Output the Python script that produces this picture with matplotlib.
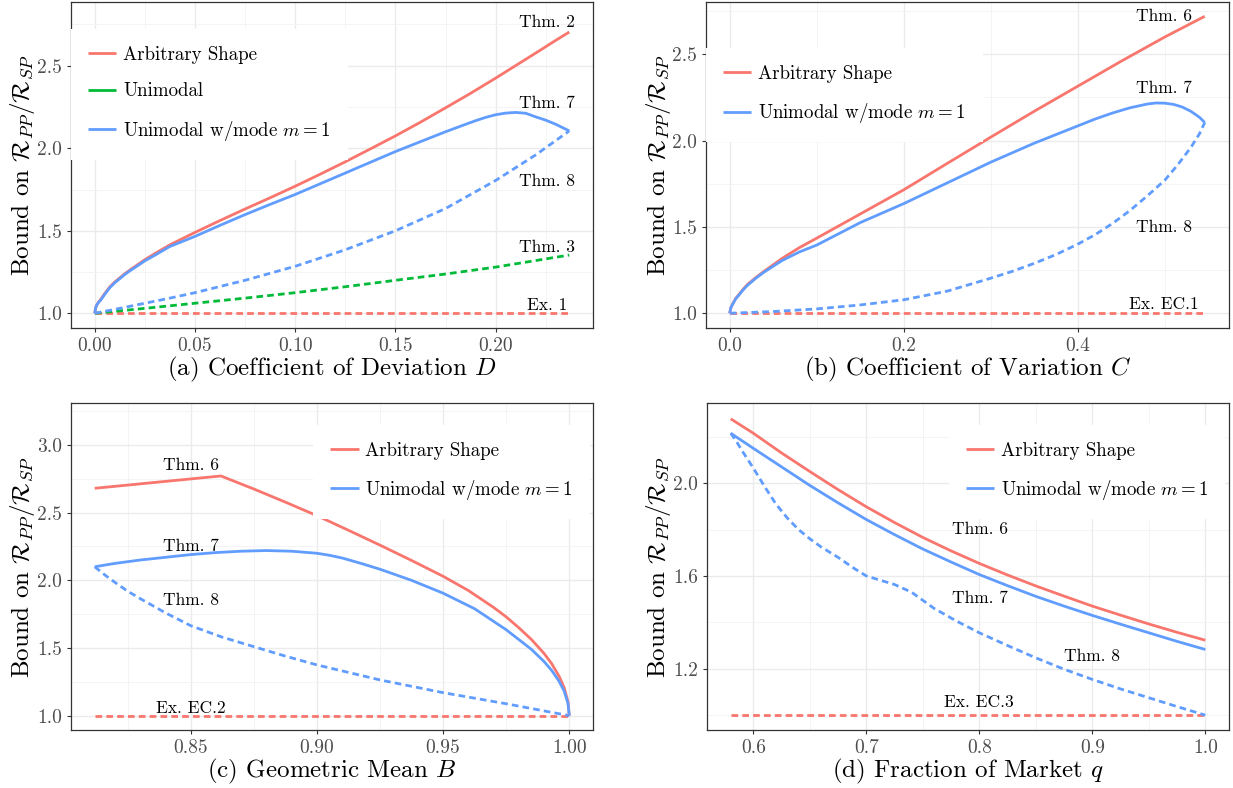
import matplotlib
matplotlib.use("Agg")
import matplotlib.pyplot as plt
from matplotlib.lines import Line2D

plt.rcParams["font.family"] = "cmr10"
plt.rcParams["mathtext.fontset"] = "cm"
plt.rcParams["axes.unicode_minus"] = False
plt.rcParams["axes.formatter.use_mathtext"] = True

RED = "#F8766D"
GREEN = "#00BA38"
BLUE = "#619CFF"

# ---- (a) coefficient of deviation D
a_x_thm2 = [0, 0.0005, 0.001, 0.002, 0.003, 0.005, 0.0075, 0.01, 0.0125, 0.015,
            0.0175, 0.02, 0.025, 0.03, 0.0375, 0.05, 0.0625, 0.075, 0.0875, 0.10,
            0.1125, 0.125, 0.1375, 0.15, 0.1625, 0.175, 0.1875, 0.20, 0.21, 0.22,
            0.23, 0.2367]
a_y_thm2 = [1.0, 1.035, 1.05, 1.07, 1.085, 1.12, 1.16, 1.19, 1.215, 1.24,
            1.262, 1.283, 1.325, 1.362, 1.415, 1.49, 1.562, 1.632, 1.70, 1.77,
            1.843, 1.918, 1.996, 2.075, 2.158, 2.245, 2.333, 2.425, 2.501, 2.577,
            2.654, 2.704]
a_x_thm7 = [0, 0.0005, 0.001, 0.002, 0.003, 0.005, 0.0075, 0.01, 0.0125, 0.015,
            0.0175, 0.02, 0.025, 0.03, 0.0375, 0.05, 0.0625, 0.075, 0.0875, 0.10,
            0.1125, 0.125, 0.1375, 0.15, 0.1625, 0.175, 0.185, 0.19, 0.195, 0.20,
            0.205, 0.21, 0.215, 0.22, 0.225, 0.23, 0.2367]
a_y_thm7 = [1.0, 1.035, 1.05, 1.068, 1.08, 1.115, 1.155, 1.185, 1.21, 1.235,
            1.257, 1.277, 1.318, 1.352, 1.405, 1.466, 1.533, 1.598, 1.66, 1.72,
            1.785, 1.85, 1.915, 1.98, 2.04, 2.10, 2.145, 2.167, 2.187, 2.203,
            2.213, 2.217, 2.212, 2.19, 2.17, 2.145, 2.105]
a_x_thm8 = [0, 0.0125, 0.025, 0.0375, 0.05, 0.075, 0.10, 0.125, 0.15, 0.175,
            0.20, 0.22, 0.2367]
a_y_thm8 = [1.0, 1.03, 1.061, 1.092, 1.125, 1.20, 1.285, 1.385, 1.50, 1.635,
            1.805, 1.96, 2.105]
a_x_thm3 = [0, 0.025, 0.05, 0.075, 0.10, 0.125, 0.15, 0.175, 0.20, 0.2367]
a_y_thm3 = [1.0, 1.03, 1.061, 1.092, 1.125, 1.161, 1.20, 1.238, 1.28, 1.353]
a_x_ex = [0, 0.2367]
a_y_ex = [1.0, 1.0]

# ---- (b) coefficient of variation C
b_x_thm6 = [0, 0.001, 0.002, 0.004, 0.007, 0.01, 0.015, 0.02, 0.03, 0.04, 0.06,
            0.08, 0.1, 0.15, 0.2, 0.25, 0.3, 0.35, 0.4, 0.45, 0.5, 0.546]
b_y_thm6 = [1.0, 1.028, 1.04, 1.06, 1.087, 1.105, 1.137, 1.165, 1.207, 1.245, 1.317,
            1.38, 1.435, 1.575, 1.715, 1.868, 2.02, 2.17, 2.315, 2.46, 2.60, 2.72]
b_x_thm7 = [0, 0.001, 0.002, 0.004, 0.007, 0.01, 0.015, 0.02, 0.03, 0.04, 0.06,
            0.08, 0.1, 0.15, 0.2, 0.25, 0.3, 0.35, 0.4, 0.42, 0.44, 0.46, 0.48,
            0.49, 0.50, 0.51, 0.52, 0.53, 0.54, 0.546]
b_y_thm7 = [1.0, 1.028, 1.04, 1.058, 1.085, 1.102, 1.133, 1.16, 1.203, 1.24, 1.305,
            1.355, 1.395, 1.525, 1.635, 1.755, 1.875, 1.985, 2.085, 2.125, 2.16, 2.19,
            2.212, 2.218, 2.217, 2.21, 2.195, 2.17, 2.135, 2.105]
b_x_thm8 = [0, 0.05, 0.1, 0.15, 0.2, 0.25, 0.30, 0.325, 0.35, 0.375, 0.40, 0.42,
            0.44, 0.46, 0.48, 0.50, 0.515, 0.53, 0.54, 0.546]
b_y_thm8 = [1.0, 1.01, 1.025, 1.048, 1.078, 1.128, 1.203, 1.243, 1.289, 1.34, 1.40,
            1.455, 1.52, 1.595, 1.68, 1.77, 1.86, 1.96, 2.04, 2.105]
b_x_ex = [0, 0.546]
b_y_ex = [1.0, 1.0]

# ---- (c) geometric mean B
c_x_thm6 = [0.812, 0.862, 0.875, 0.8875, 0.90, 0.9125, 0.925, 0.9375, 0.95, 0.96,
            0.97, 0.975, 0.98, 0.985, 0.99, 0.993, 0.996, 0.998, 0.9995, 1.0]
c_y_thm6 = [2.68, 2.771, 2.675, 2.578, 2.478, 2.37, 2.26, 2.147, 2.03, 1.925,
            1.80, 1.73, 1.65, 1.563, 1.46, 1.385, 1.29, 1.206, 1.10, 1.0]
c_x_thm7 = [0.812, 0.82, 0.83, 0.84, 0.85, 0.86, 0.87, 0.88, 0.89, 0.90, 0.905,
            0.91, 0.9175, 0.925, 0.9375, 0.95, 0.9625, 0.975, 0.985, 0.99, 0.993,
            0.996, 0.998, 0.9995, 1.0]
c_y_thm7 = [2.10, 2.125, 2.15, 2.17, 2.19, 2.205, 2.215, 2.22, 2.215, 2.20, 2.185,
            2.165, 2.125, 2.082, 2.0, 1.905, 1.79, 1.635, 1.49, 1.40, 1.335,
            1.253, 1.18, 1.09, 1.0]
c_x_thm8 = [0.812, 0.816, 0.82, 0.825, 0.83, 0.84, 0.85, 0.8625, 0.875, 0.8875,
            0.90, 0.925, 0.95, 0.975, 1.0]
c_y_thm8 = [2.10, 2.04, 1.985, 1.92, 1.865, 1.76, 1.665, 1.58, 1.51, 1.44,
            1.375, 1.264, 1.17, 1.088, 1.0]
c_x_ex = [0.812, 1.0]
c_y_ex = [1.0, 1.0]

# ---- (d) fraction of market q
d_x_thm6 = [0.58, 0.6, 0.625, 0.65, 0.675, 0.7, 0.725, 0.75, 0.775, 0.8, 0.825,
            0.85, 0.875, 0.9, 0.925, 0.95, 0.975, 1.0]
d_y_thm6 = [2.277, 2.215, 2.13, 2.05, 1.972, 1.898, 1.83, 1.766, 1.708, 1.654, 1.604,
            1.557, 1.513, 1.47, 1.431, 1.393, 1.357, 1.323]
d_x_thm7 = [0.58, 0.6, 0.625, 0.65, 0.675, 0.7, 0.725, 0.75, 0.775, 0.8, 0.825,
            0.85, 0.875, 0.9, 0.925, 0.95, 0.975, 1.0]
d_y_thm7 = [2.215, 2.15, 2.07, 1.99, 1.915, 1.843, 1.778, 1.716, 1.66, 1.606, 1.558,
            1.512, 1.47, 1.43, 1.392, 1.355, 1.318, 1.283]
d_x_thm8 = [0.58, 0.585, 0.59, 0.6, 0.61, 0.62, 0.63, 0.64, 0.65, 0.66, 0.675,
            0.69, 0.70, 0.71, 0.725, 0.74, 0.76, 0.78, 0.80, 0.825, 0.85, 0.875,
            0.90, 0.925, 0.95, 0.975, 1.0]
d_y_thm8 = [2.215, 2.18, 2.14, 2.065, 1.985, 1.91, 1.85, 1.80, 1.76, 1.725, 1.68,
            1.63, 1.60, 1.585, 1.563, 1.53, 1.46, 1.405, 1.355, 1.30, 1.247, 1.198,
            1.154, 1.113, 1.075, 1.037, 1.0]
d_x_ex = [0.58, 1.0]
d_y_ex = [1.0, 1.0]

W, H = 1233, 788
fig = plt.figure(figsize=(W / 100, H / 100), dpi=100)


def make_axes(left, right, top, bottom):
    return fig.add_axes([left / W, 1 - bottom / H, (right - left) / W, (bottom - top) / H])


def style(ax, xlim, ylim, xmaj, xlab, xmin, ymaj, ylab, ymin):
    ax.set_xlim(*xlim)
    ax.set_ylim(*ylim)
    ax.set_xticks(xmaj, xlab)
    ax.set_xticks(xmin, minor=True)
    ax.set_yticks(ymaj, ylab)
    ax.set_yticks(ymin, minor=True)
    ax.grid(which="major", color="#EBEBEB", lw=1.0, zorder=0)
    ax.grid(which="minor", color="#F2F2F2", lw=0.6, zorder=0)
    ax.set_axisbelow(True)
    for s in ax.spines.values():
        s.set_color("#333333")
        s.set_linewidth(0.9)
    ax.tick_params(which="major", length=3.0, width=0.8, color="#333333",
                   labelsize=14, labelcolor="#4D4D4D", pad=3.5)
    ax.tick_params(which="minor", length=0)


solid = dict(lw=2.0, solid_capstyle="butt")
dash = dict(lw=2.0, ls=(0, (2.4, 1.5)))
ylabel = r"Bound on $\mathcal{R}_{PP}/\mathcal{R}_{SP}$"
ann = dict(ha="center", va="center", fontsize=12.5)


def legend(ax, handles, labels, x, y):
    lg = ax.legend(handles, labels, loc="upper left", bbox_to_anchor=(x, y),
                   borderaxespad=0, fontsize=13.6, frameon=True, fancybox=False,
                   facecolor="white", edgecolor="none", framealpha=1.0,
                   handlelength=1.5, handletextpad=0.35, labelspacing=0.98,
                   borderpad=0.9)
    lg.get_frame().set_linewidth(0)


def labels(ax, xl, ylx):
    ax.set_xlabel(xl, fontsize=18, va="baseline")
    ax.xaxis.set_label_coords(0.5, -47 / 326)
    ax.set_ylabel(ylabel, fontsize=18, va="baseline")
    ax.yaxis.set_label_coords(ylx, 0.5)


# (a)
ax = make_axes(71, 593, 2, 328)
ax.plot(a_x_ex, a_y_ex, color=RED, **dash)
ax.plot(a_x_thm3, a_y_thm3, color=GREEN, **dash)
ax.plot(a_x_thm8, a_y_thm8, color=BLUE, **dash)
ax.plot(a_x_thm2, a_y_thm2, color=RED, **solid)
ax.plot(a_x_thm7, a_y_thm7, color=BLUE, **solid)
style(ax, (-0.01184, 0.24854), (0.911, 2.886),
      [0, 0.05, 0.10, 0.15, 0.20], ["0.00", "0.05", "0.10", "0.15", "0.20"],
      [0.025, 0.075, 0.125, 0.175, 0.225],
      [1.0, 1.5, 2.0, 2.5], ["1.0", "1.5", "2.0", "2.5"],
      [1.25, 1.75, 2.25, 2.75])
ax.text(0.2256, 2.765, "Thm. 2", **ann)
ax.text(0.2256, 2.273, "Thm. 7", **ann)
ax.text(0.2256, 1.798, "Thm. 8", **ann)
ax.text(0.2256, 1.40, "Thm. 3", **ann)
ax.text(0.2256, 1.05, "Ex. 1", **ann)
legend(ax, [Line2D([], [], color=c, **solid) for c in (RED, GREEN, BLUE)],
       ["Arbitrary Shape", "Unimodal", r"Unimodal w/mode $m=1$"], 0.0, 0.918)
labels(ax, r"(a) Coefficient of Deviation $D$", -42 / 522)

# (b)
ax = make_axes(706, 1229, 2, 328)
ax.plot(b_x_ex, b_y_ex, color=RED, **dash)
ax.plot(b_x_thm8, b_y_thm8, color=BLUE, **dash)
ax.plot(b_x_thm6, b_y_thm6, color=RED, **solid)
ax.plot(b_x_thm7, b_y_thm7, color=BLUE, **solid)
style(ax, (-0.0273, 0.5739), (0.9145, 2.803),
      [0, 0.2, 0.4], ["0.0", "0.2", "0.4"], [0.1, 0.3, 0.5],
      [1.0, 1.5, 2.0, 2.5], ["1.0", "1.5", "2.0", "2.5"],
      [1.25, 1.75, 2.25, 2.75])
ax.text(0.499, 2.72, "Thm. 6", **ann)
ax.text(0.499, 2.303, "Thm. 7", **ann)
ax.text(0.499, 1.496, "Thm. 8", **ann)
ax.text(0.499, 1.054, "Ex. EC.1", **ann)
legend(ax, [Line2D([], [], color=c, **solid) for c in (RED, BLUE)],
       ["Arbitrary Shape", r"Unimodal w/mode $m=1$"], 0.0, 0.859)
labels(ax, r"(b) Coefficient of Variation $C$", -41 / 523)

# (c)
ax = make_axes(71, 593, 403.3, 730)
ax.plot(c_x_ex, c_y_ex, color=RED, **dash)
ax.plot(c_x_thm8, c_y_thm8, color=BLUE, **dash)
ax.plot(c_x_thm6, c_y_thm6, color=RED, **solid)
ax.plot(c_x_thm7, c_y_thm7, color=BLUE, **solid)
style(ax, (0.8026, 1.0094), (0.894, 3.308),
      [0.85, 0.90, 0.95, 1.00], ["0.85", "0.90", "0.95", "1.00"],
      [0.825, 0.875, 0.925, 0.975],
      [1.0, 1.5, 2.0, 2.5, 3.0], ["1.0", "1.5", "2.0", "2.5", "3.0"],
      [1.25, 1.75, 2.25, 2.75, 3.25])
ax.text(0.8501, 2.852, "Thm. 6", **ann)
ax.text(0.8501, 2.249, "Thm. 7", **ann)
ax.text(0.8501, 1.855, "Thm. 8", **ann)
ax.text(0.8501, 1.055, "Ex. EC.2", **ann)
legend(ax, [Line2D([], [], color=c, **solid) for c in (RED, BLUE)],
       ["Arbitrary Shape", r"Unimodal w/mode $m=1$"], 0.464, 0.935)
labels(ax, r"(c) Geometric Mean $B$", -42 / 522)

# (d)
ax = make_axes(707, 1229, 403.3, 730)
ax.plot(d_x_ex, d_y_ex, color=RED, **dash)
ax.plot(d_x_thm8, d_y_thm8, color=BLUE, **dash)
ax.plot(d_x_thm6, d_y_thm6, color=RED, **solid)
ax.plot(d_x_thm7, d_y_thm7, color=BLUE, **solid)
style(ax, (0.559, 1.021), (0.936, 2.344),
      [0.6, 0.7, 0.8, 0.9, 1.0], ["0.6", "0.7", "0.8", "0.9", "1.0"],
      [0.65, 0.75, 0.85, 0.95],
      [1.2, 1.6, 2.0], ["1.2", "1.6", "2.0"],
      [1.0, 1.4, 1.8, 2.2])
ax.text(0.8005, 1.802, "Thm. 6", **ann)
ax.text(0.8005, 1.505, "Thm. 7", **ann)
ax.text(0.90, 1.252, "Thm. 8", **ann)
ax.text(0.80, 1.054, "Ex. EC.3", **ann)
legend(ax, [Line2D([], [], color=c, **solid) for c in (RED, BLUE)],
       ["Arbitrary Shape", r"Unimodal w/mode $m=1$"], 0.463, 0.935)
labels(ax, r"(d) Fraction of Market $q$", -42 / 522)

fig.savefig("out.png", dpi=100)
